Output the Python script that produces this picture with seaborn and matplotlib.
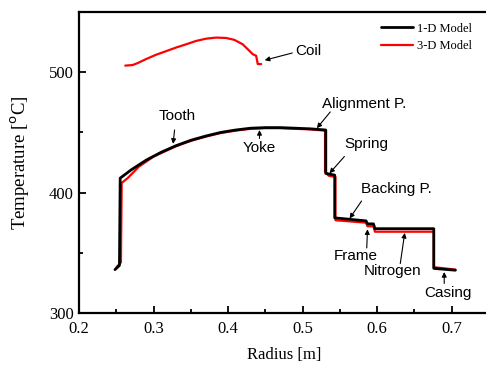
import numpy as np
import pandas as pd
import seaborn as sns
import matplotlib.pyplot as plt

# 1-D model (black)
r_1d = [0.248, 0.254, 0.255, 0.27, 0.29, 0.31, 0.33, 0.35, 0.37, 0.39, 0.41, 0.43,
        0.45, 0.47, 0.49, 0.51, 0.531, 0.531, 0.543, 0.543, 0.585, 0.587, 0.595,
        0.597, 0.676, 0.676, 0.705]
t_1d = [336, 339.5, 412, 419, 427, 433.5, 439, 443.5, 447, 450, 452, 453.5,
        454, 454, 453.5, 453, 452, 416, 414.5, 379, 376.5, 374, 374,
        370, 370, 337, 335.5]

# 3-D model (red), main body
r_3d = [0.250, 0.256, 0.257, 0.265, 0.28, 0.30, 0.33, 0.35, 0.37, 0.39, 0.41, 0.43,
        0.45, 0.47, 0.49, 0.51, 0.530, 0.530, 0.535, 0.544, 0.544, 0.585, 0.587,
        0.595, 0.597, 0.676, 0.676, 0.705]
t_3d = [338, 342, 408, 412, 421.5, 430, 438.5, 443, 446.5, 449.5, 451.5, 453,
        453.5, 453.5, 453, 452.5, 451.5, 417, 414, 413, 377, 375, 372,
        372, 367.5, 367.5, 338, 336]

# 3-D model, coil
r_coil = [0.2618, 0.2717, 0.2784, 0.2896, 0.3030, 0.3165, 0.3299, 0.3434, 0.3568,
          0.3703, 0.3837, 0.3971, 0.4083, 0.4195, 0.4263, 0.4330, 0.4375, 0.4397, 0.4442]
t_coil = [505.5, 506.0, 507.6, 510.9, 514.5, 517.5, 520.5, 523.2, 526.0,
          527.9, 528.8, 528.5, 526.9, 523.2, 519.1, 515.0, 513.7, 506.8, 506.8]

# labels: (text, text x, text y, arrow tail x, tail y, head x, head y)
notes = [
    ("Coil", 0.508, 518, 0.486, 516, 0.449, 510),
    ("Tooth", 0.332, 464, 0.328, 452, 0.326, 440.5),
    ("Yoke", 0.442, 437, 0.442, 445, 0.442, 452),
    ("Alignment P.", 0.583, 473.5, 0.537, 467, 0.519, 453.5),
    ("Spring", 0.585, 440, 0.556, 430, 0.536, 416),
    ("Backing P.", 0.626, 403, 0.579, 393, 0.563, 378.5),
    ("Frame", 0.571, 347, 0.586, 354, 0.587, 369.5),
    ("Nitrogen", 0.620, 334.5, 0.631, 341, 0.637, 366.5),
    ("Casing", 0.695, 316.5, 0.690, 324.5, 0.690, 334),
]

sns.set_style("ticks", {'axes.edgecolor': 'black', 'text.color': 'black',
                        'xtick.color': 'black', 'ytick.color': 'black',
                        'axes.labelcolor': 'black'})
plt.rcParams['font.family'] = ['Liberation Serif', 'DejaVu Serif']

fig = plt.figure(figsize=(4.86, 3.66), dpi=100)
ax = fig.add_axes([0.163, 0.145, 0.843, 0.822])

df1 = pd.DataFrame({'r': r_1d, 't': t_1d})
df3 = pd.DataFrame({'r': r_3d, 't': t_3d})
dfc = pd.DataFrame({'r': r_coil, 't': t_coil})

sns.lineplot(data=df3, x='r', y='t', sort=False, estimator=None, color='red',
             lw=1.6, ax=ax, label='3-D Model', zorder=2)
sns.lineplot(data=dfc, x='r', y='t', sort=False, estimator=None, color='red',
             lw=1.6, ax=ax, zorder=2)
sns.lineplot(data=df1, x='r', y='t', sort=False, estimator=None, color='black',
             lw=2.0, ax=ax, label='1-D Model', zorder=3)

for txt, tx, ty, ax0, ay0, hx, hy in notes:
    ax.text(tx, ty, txt, ha='center', va='center', fontsize=11,
            family='Liberation Sans', color='black')
    ax.annotate('', xy=(hx, hy), xytext=(ax0, ay0),
                arrowprops=dict(arrowstyle='-|>', color='black', lw=0.8,
                                mutation_scale=7, shrinkA=0, shrinkB=0))

ax.set_xlim(0.2, 0.75)
ax.set_ylim(300, 550)
ax.set_xticks([0.2, 0.3, 0.4, 0.5, 0.6, 0.7])
ax.set_xticks(np.arange(0.25, 0.75, 0.1), minor=True)
ax.set_yticks([300, 400, 500])
ax.set_yticks([350, 450], minor=True)
ax.tick_params(direction='in', length=5, width=1.3, labelsize=12)
ax.tick_params(which='minor', direction='in', length=3, width=1.3)
ax.tick_params(axis='x', pad=6)
ax.tick_params(axis='y', pad=4)
for s in ax.spines.values():
    s.set_linewidth(1.6)

ax.set_xlabel('Radius [m]', fontsize=12, labelpad=7)
ax.set_ylabel('Temperature [$^{\\rm o}$C]', fontsize=13.5, labelpad=12)

h, l = ax.get_legend_handles_labels()
ax.legend(h[::-1], l[::-1], loc='upper right', bbox_to_anchor=(0.985, 1.0),
          frameon=False, fontsize=9, handlelength=2.6, handletextpad=0.3,
          labelspacing=0.45, borderaxespad=0.45)

fig.savefig('out.png', dpi=100)
plt.close()
